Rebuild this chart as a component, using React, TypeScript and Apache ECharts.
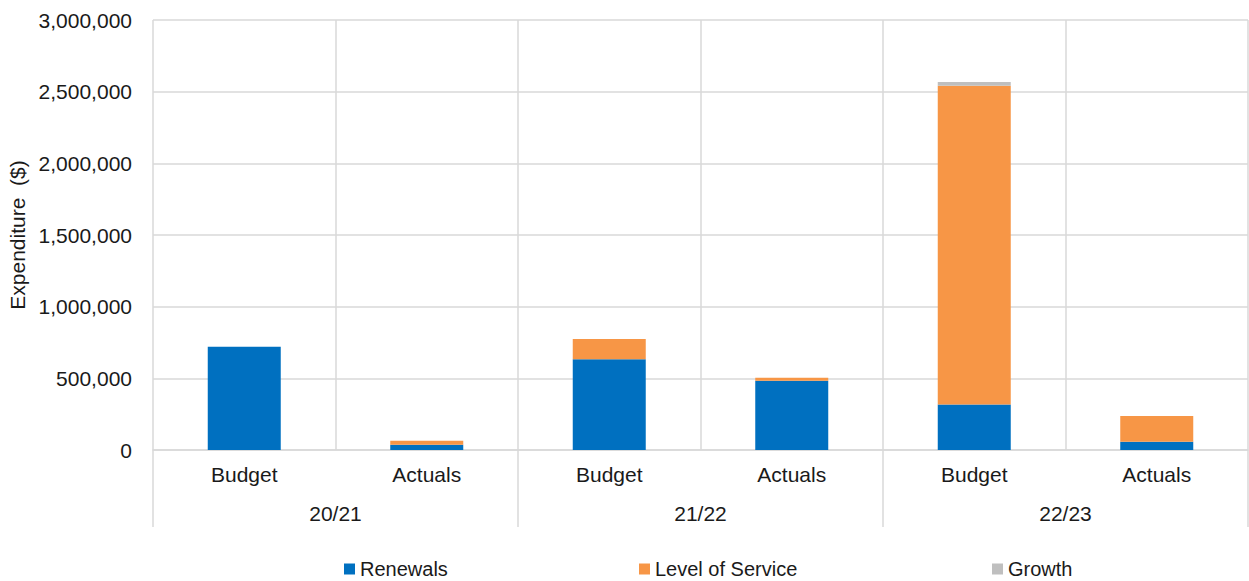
import React, { useEffect, useRef } from "react";
import * as echarts from "echarts";

const categories = ["Budget", "Actuals", "Budget", "Actuals", "Budget", "Actuals"];
const years = ["20/21", "21/22", "22/23"];
const renewals = [720000, 37000, 633000, 483000, 318000, 57000];
const levelOfService = [0, 28000, 141000, 21000, 2224000, 180000];
const growth = [0, 0, 0, 0, 25000, 0];
const seriesNames = ["Renewals", "Level of Service", "Growth"];
const colors = ["#0070C0", "#F79646", "#BFBFBF"];

const TXT = "#1a1a1a";
const FONT = "Liberation Sans, Arial, sans-serif";
const GRID = "#d9d9d9";

export default function App() {
  const ref = useRef<HTMLDivElement>(null);
  useEffect(() => {
    if (!ref.current) return;
    const chart = echarts.init(ref.current, undefined, { renderer: "svg" });
    const values = [renewals, levelOfService, growth];
    const legendLefts = [344, 639, 992];
    chart.setOption({
      animation: false,
      textStyle: { fontFamily: FONT },
      grid: {
        left: 153,
        right: 1,
        top: 20,
        bottom: 131,
        containLabel: false,
        outerBoundsMode: "none",
      },
      legend: seriesNames.map((n, i) => ({
        data: [n],
        left: legendLefts[i],
        top: 559,
        padding: 0,
        itemWidth: 11,
        itemHeight: 11,
        icon: "rect",
        itemGap: 5,
        textStyle: { fontSize: 20, color: TXT, fontFamily: FONT },
      })),
      xAxis: [
        {
          type: "category",
          data: categories,
          axisLine: { show: true, lineStyle: { color: GRID, width: 1.5 } },
          axisTick: { show: false },
          splitLine: { show: true, interval: 0, lineStyle: { color: GRID, width: 1.5 } },
          axisLabel: { fontSize: 21, color: TXT, margin: 14, fontFamily: FONT },
        },
        {
          type: "category",
          data: years,
          position: "bottom",
          axisLine: { show: false },
          axisTick: { show: true, interval: 0, length: 77, lineStyle: { color: GRID, width: 1.5 } },
          splitLine: { show: false },
          axisLabel: { fontSize: 21, color: TXT, margin: 53, fontFamily: FONT },
        },
      ],
      yAxis: {
        type: "value",
        min: 0,
        max: 3000000,
        interval: 500000,
        name: "Expenditure  ($)",
        nameLocation: "middle",
        nameGap: 119,
        nameTextStyle: { fontSize: 21, color: TXT, fontFamily: FONT },
        axisLine: { show: false },
        axisTick: { show: false },
        splitLine: { show: true, lineStyle: { color: GRID, width: 1.5 } },
        axisLabel: {
          fontSize: 21,
          color: TXT,
          margin: 21,
          fontFamily: FONT,
          formatter: (v: number) => v.toLocaleString("en-US"),
        },
      },
      series: seriesNames.map((n, i) => ({
        name: n,
        type: "bar",
        stack: "total",
        xAxisIndex: 0,
        barWidth: "40%",
        itemStyle: { color: colors[i] },
        data: values[i],
      })),
    });
    return () => chart.dispose();
  }, []);
  return (
    <div
      ref={ref}
      style={{ position: "fixed", left: 0, top: 0, width: 1249, height: 581, background: "#fff" }}
    />
  );
}
